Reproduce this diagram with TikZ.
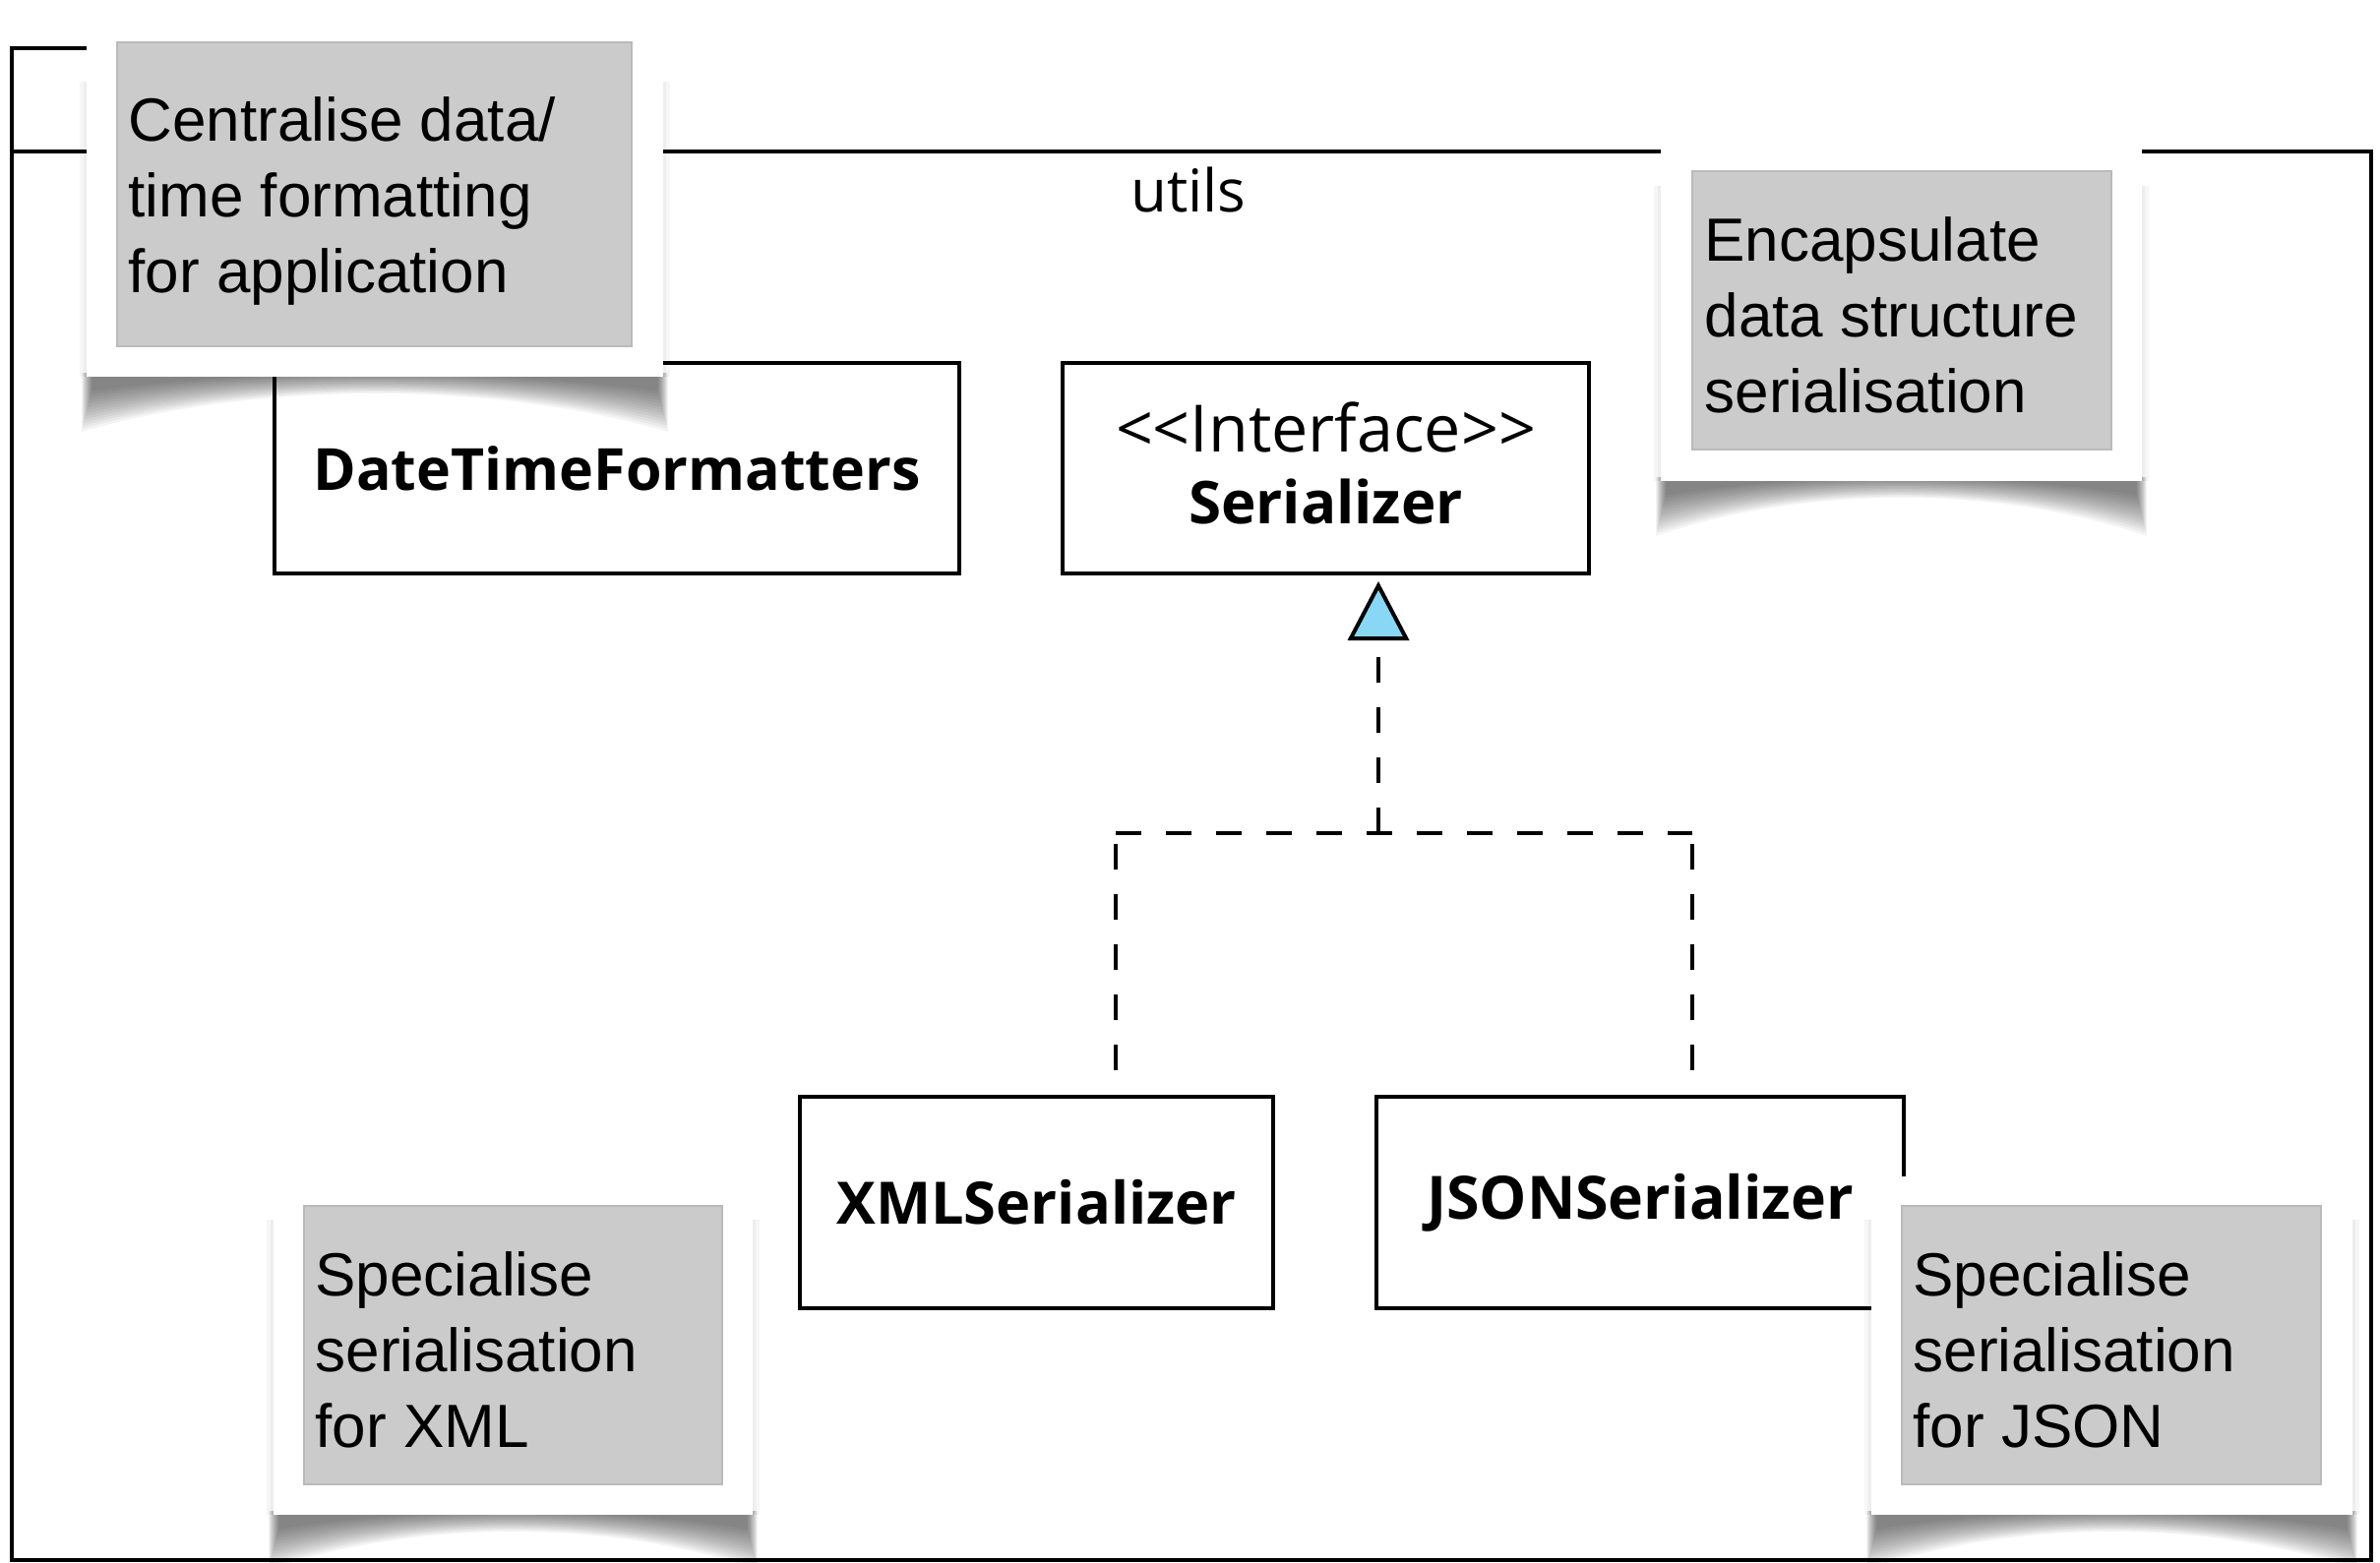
\documentclass[tikz,border=0pt]{standalone}
\usepackage{fontspec}
\setmainfont{Liberation Sans}
\newfontfamily\umlfont{Open Sans}
\usetikzlibrary{arrows.meta}

\definecolor{notegray}{RGB}{203,203,203}
\definecolor{noteedge}{RGB}{186,186,186}
\definecolor{tipblue}{RGB}{135,215,245}

% set #3 in font #1, scaled so that it is #2 pt wide
\newcommand\fitw[3]{%
  \setbox0=\hbox{#1\fontsize{10pt}{12pt}\selectfont #3}%
  \pgfmathsetmacro\fitsz{10*#2/\the\wd0}%
  \hbox{#1\fontsize{\fitsz pt}{\fitsz pt}\selectfont #3}}

% soft curled shadow under a note card: left x, right x, bottom y
\newcommand\curlshadow[3]{%
  \foreach \i in {0,...,13}{%
    \pgfmathsetmacro\ins{\i*3.2}%
    \fill[black,opacity=0.045]
      ({#1-5+\i*0.8},{#3-4}) -- ({#1-5+\i*0.8},{#3+56-\ins})
      .. controls ({#1+0.3*(#2-#1)},{#3+4-\ins*0.3}) and ({#2-0.3*(#2-#1)},{#3+4-\ins*0.3})
      .. ({#2+5-\i*0.8},{#3+56-\ins}) -- ({#2+5-\i*0.8},{#3-4}) -- cycle;
  }%
  \fill[black,opacity=0.035] ({#1-7},{#3-300}) rectangle ({#2+7},{#3});
  \fill[black,opacity=0.035] ({#1-3},{#3-300}) rectangle ({#2+3},{#3});
}

\tikzset{
  pkgline/.style={draw=black, line width=4pt},
  classbox/.style={draw=black, line width=4pt, fill=white, inner sep=0pt},
  noteframe/.style={fill=white, draw=none, inner sep=0pt},
  notebox/.style={fill=notegray, draw=noteedge, line width=1.2pt, inner sep=0pt},
  notetext/.style={anchor=west, inner sep=0pt, align=left,
    font=\fontsize{62pt}{77pt}\selectfont},
  realize/.style={draw=black, line width=4.5pt, dash pattern=on 26pt off 25pt},
  gentip/.style={-{Triangle[length=60pt, width=62pt, fill=tipblue, line width=4pt]}},
}

\begin{document}
\begin{tikzpicture}[x=1pt, y=-1pt]
  \useasboundingbox (0,0) rectangle (2419,1589);
  \fill[white] (0,0) rectangle (2419,1589);

  % package utils: tab and body
  \draw[pkgline] (12,154) -- (12,49) -- (500,49) -- (500,154);
  \draw[pkgline] (12,154) rectangle (2410,1586);
  \node (pkgname) at (1208,193) {\fitw{\umlfont}{117}{utils}};

  % classes
  \node[classbox, minimum width=696pt, minimum height=214pt] (dtf) at (627,476)
    {\fitw{\umlfont\bfseries}{617}{DateTimeFormatters}};
  \node[classbox, minimum width=535pt, minimum height=214pt, align=center,
        font=\fontsize{50pt}{73pt}\selectfont] (ser) at (1347.5,476)
    {\fitw{\umlfont}{427}{<{}<Interface>{}>}\\\fitw{\umlfont\bfseries}{279}{Serializer}\rule[-10pt]{0pt}{10pt}};
  \node[classbox, minimum width=481pt, minimum height=215pt] (xml) at (1053.5,1222.5)
    {\fitw{\umlfont\bfseries}{406}{XMLSerializer}};
  \node[classbox, minimum width=536pt, minimum height=215pt] (json) at (1667,1222.5)
    {\fitw{\umlfont\bfseries}{434}{JSONSerializer}};

  % realization connectors
  \coordinate (hub) at (1401,847);
  \coordinate (lcorner) at (1134,847);
  \coordinate (rcorner) at (1720,847);
  \coordinate (xmlend) at (1134,1088);
  \coordinate (jsonend) at (1720,1088);
  \draw[realize] (xmlend) -- (lcorner);
  \draw[realize] (jsonend) -- (rcorner);
  \draw[realize] (lcorner) -- (rcorner);
  \draw[realize, gentip, shorten >=6pt] (hub) -- (ser.south -| hub);

  % note: date/time formatting
  \curlshadow{88}{674}{383}
  \node[noteframe, minimum width=586pt, minimum height=371pt] (n1frame) at (381,197.5) {};
  \node[notebox, minimum width=523pt, minimum height=309pt] (n1) at (380.5,197.5) {};
  \node[notetext] (n1text) at ([xshift=12pt,yshift=-7pt]n1.west)
    {Centralise data/\\time formatting\\for application};

  % note: serialisation
  \curlshadow{1688}{2177}{489}
  \node[noteframe, minimum width=489pt, minimum height=346pt] (n2frame) at (1932.5,316) {};
  \node[notebox, minimum width=426pt, minimum height=283pt] (n2) at (1933,315.5) {};
  \node[notetext] (n2text) at ([xshift=13pt,yshift=-5pt]n2.west)
    {Encapsulate\\data structure\\serialisation};

  % note: XML
  \curlshadow{278}{765}{1540}
  \node[noteframe, minimum width=487pt, minimum height=344pt] (n3frame) at (521.5,1368) {};
  \node[notebox, minimum width=425pt, minimum height=283pt] (n3) at (521.5,1367.5) {};
  \node[notetext] (n3text) at ([xshift=12pt,yshift=-5pt]n3.west)
    {Specialise\\serialisation\\for XML};

  % note: JSON
  \curlshadow{1902}{2391}{1540}
  \node[noteframe, minimum width=489pt, minimum height=344pt] (n4frame) at (2146.5,1368) {};
  \node[notebox, minimum width=426pt, minimum height=283pt] (n4) at (2146,1367.5) {};
  \node[notetext] (n4text) at ([xshift=12pt,yshift=-5pt]n4.west)
    {Specialise\\serialisation\\for JSON};
\end{tikzpicture}
\end{document}
